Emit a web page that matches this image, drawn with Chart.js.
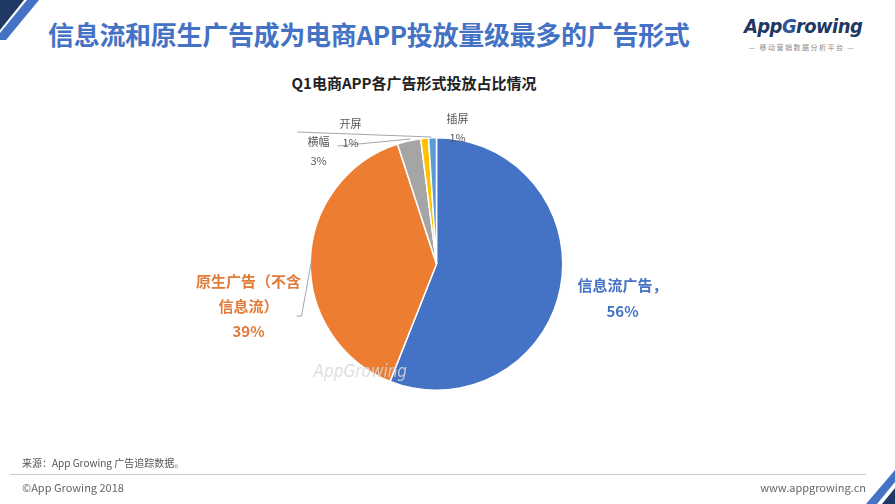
<!DOCTYPE html>
<html>
<head>
<meta charset="utf-8">
<script src="https://cdn.jsdelivr.net/npm/chart.js@4"></script>
<style>
  html, body { margin: 0; padding: 0; background: #fff; }
  #slide { position: relative; width: 895px; height: 504px; overflow: hidden; font-family: "Noto Sans CJK SC", "Noto Sans", sans-serif; }
  #pieWrap { position: absolute; left: 0; top: 0; width: 895px; height: 504px; }
  .abs { position: absolute; white-space: nowrap; }
  #title { left: 48px; top: 16px; font-size: 26px; font-weight: bold; color: #4472C4; line-height: 36px; letter-spacing: -0.3px; }
  #chartTitle { left: 0; width: 828px; top: 73px; text-align: center; font-size: 15px; font-weight: bold; color: #222; line-height: 20px; }
  #logo { left: 744px; top: 13px; font-family: "DejaVu Sans Condensed", "DejaVu Sans", sans-serif; font-style: italic; font-weight: bold; font-size: 20px; color: #1F3864; line-height: 26px; letter-spacing: -0.6px; }
  #logo .g { color: #2E5597; }
  #logoSub { left: 742px; top: 42px; width: 120px; text-align: center; font-size: 7px; color: #888; letter-spacing: 1.5px; line-height: 10px; }
  #source { left: 22px; top: 456px; font-size: 10px; color: #555; line-height: 14px; }
  #rule { left: 10px; top: 474px; width: 856px; height: 1px; background: #c8c8c8; }
  #copy { left: 22px; top: 480px; font-size: 11px; color: #666; line-height: 14px; }
  #site { right: 29px; top: 480px; font-size: 11px; color: #666; line-height: 14px; }
  svg.deco { position: absolute; left: 0; top: 0; }
</style>
</head>
<body>
<div id="slide">
  <svg class="deco" width="895" height="504">
    <polygon points="0,0 24,0 0,30" fill="#1F3864"/>
    <polygon points="27,0 39,0 6,40 0,40 0,33" fill="#4472C4"/>
    <polygon points="895,470 895,482 877,504 866,504" fill="#4472C4"/>
    <polygon points="895,488 895,504 882,504" fill="#1F3864"/>
  </svg>
  <div id="title" class="abs">信息流和原生广告成为电商APP投放量级最多的广告形式</div>
  <div id="logo" class="abs">App<span class="g">G</span>rowing</div>
  <div id="logoSub" class="abs">— 移动营销数据分析平台 —</div>
  <div id="chartTitle" class="abs">Q1电商APP各广告形式投放占比情况</div>
  <div id="pieWrap"><canvas id="pieChart"></canvas></div>
  <div id="source" class="abs">来源：App Growing 广告追踪数据。</div>
  <div id="rule" class="abs"></div>
  <div id="copy" class="abs">©App Growing 2018</div>
  <div id="site" class="abs">www.appgrowing.cn</div>
</div>

<script>
/* ===============================
   DATA
   =============================== */
const categories = ["信息流广告", "原生广告（不含信息流）", "横幅", "开屏", "插屏"];
const shares = [56, 39, 3, 1, 1];
const labelLines = [
  ["信息流广告，", "56%"],
  ["原生广告（不含", "信息流）", "39%"],
  ["横幅", "3%"],
  ["开屏", "1%"],
  ["插屏", "1%"]
];

/* ===============================
   STYLE
   =============================== */
const sliceColors = ["#4472C4", "#ED7D31", "#A5A5A5", "#FFC000", "#5B9BD5"];
const labelColors = ["#4472C4", "#E07B39", "#595959", "#595959", "#595959"];
const labelBold = [true, true, false, false, false];
const labelSize = [15, 15, 11, 11, 11];
const lineGap = [26, 25, 19, 19, 19];
// label anchor offsets from pie centre (first line centre)
const labelOffset = [[186, 21], [-188, 17], [-118, -122], [-86, -140], [21, -145]];

const labelPlugin = {
  id: "sliceLabels",
  afterDraw(chart) {
    const ctx = chart.ctx;
    const arc = chart.getDatasetMeta(0).data[0];
    const cx = arc.x, cy = arc.y, r = arc.outerRadius;

    // leader lines
    ctx.save();
    ctx.strokeStyle = "#a6a6a6";
    ctx.lineWidth = 1;
    ctx.beginPath();
    ctx.moveTo(cx - r + 1, cy - 2);
    ctx.lineTo(cx - 135, cy + 52);
    ctx.lineTo(cx - 140, cy + 52);
    ctx.moveTo(cx - 139, cy - 132);
    ctx.lineTo(cx - 5, cy - 127);
    ctx.moveTo(cx - 99, cy - 118);
    ctx.lineTo(cx - 26, cy - 125);
    ctx.stroke();
    ctx.restore();

    // labels
    ctx.save();
    ctx.textAlign = "center";
    ctx.textBaseline = "middle";
    labelLines.forEach((lines, i) => {
      ctx.font = (labelBold[i] ? "bold " : "") + labelSize[i] + 'px "Noto Sans CJK SC", sans-serif';
      ctx.fillStyle = labelColors[i];
      lines.forEach((t, k) => {
        ctx.fillText(t, cx + labelOffset[i][0], cy + labelOffset[i][1] + k * lineGap[i]);
      });
    });

    // watermark
    ctx.font = 'italic 17px "DejaVu Sans Condensed", sans-serif';
    ctx.fillStyle = "rgba(215,215,222,0.85)";
    ctx.textAlign = "left";
    ctx.fillText("AppGrowing", cx - 123, cy + 109);
    ctx.restore();
  }
};

new Chart(document.getElementById("pieChart"), {
  type: "pie",
  data: {
    labels: categories,
    datasets: [{
      data: shares,
      backgroundColor: sliceColors,
      borderColor: "#ffffff",
      borderWidth: 1.5
    }]
  },
  options: {
    responsive: true,
    maintainAspectRatio: false,
    animation: false,
    layout: { padding: { top: 137, bottom: 113, left: 309.5, right: 331.5 } },
    plugins: {
      legend: { display: false },
      tooltip: { enabled: false },
      title: { display: false }
    }
  },
  plugins: [labelPlugin]
});
</script>
</body>
</html>
